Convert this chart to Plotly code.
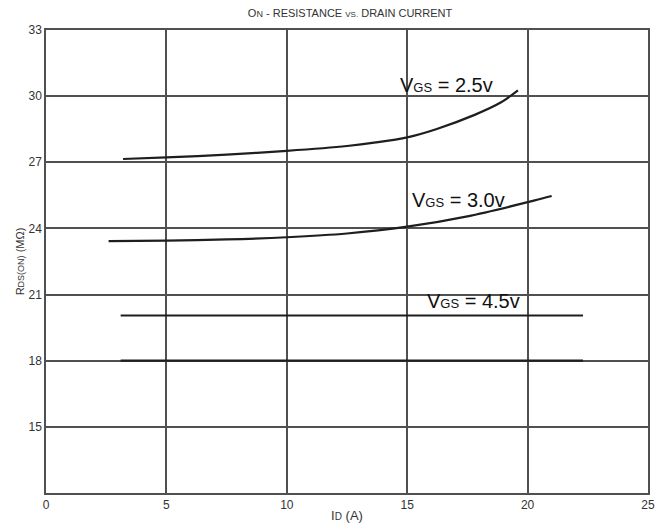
import plotly.graph_objects as go

# Drain current (A) and on-resistance (mOhm) for each gate voltage
id_25 = [3.2, 5, 7.5, 10, 12.5, 13.7, 15, 16.2, 17.8, 18.9, 19.6]
r_25 = [27.15, 27.22, 27.35, 27.52, 27.74, 27.9, 28.13, 28.5, 29.15, 29.72, 30.26]

id_30 = [2.6, 5, 7.5, 10, 12.5, 15, 17.5, 20.3, 21]
r_30 = [23.42, 23.45, 23.5, 23.6, 23.77, 24.08, 24.55, 25.27, 25.47]

id_45 = [3.1, 22.3]
r_45 = [20.05, 20.05]

id_low = [3.1, 22.3]
r_low = [18.0, 18.0]

x_ticks = [0, 5, 10, 15, 20, 25]
y_ticks = [15, 18, 21, 24, 27, 30, 33]

curve_labels = [
    ("V<span style='font-size:13px'>GS</span> = 2.5v", 16.65, 30.5),
    ("V<span style='font-size:13px'>GS</span> = 3.0v", 17.14, 25.3),
    ("V<span style='font-size:13px'>GS</span> = 4.5v", 17.75, 20.72),
]

line_style = dict(color="#1e1e1e", width=2.2, shape="spline", smoothing=0.8)

fig = go.Figure()
for xs, ys in [(id_25, r_25), (id_30, r_30), (id_45, r_45), (id_low, r_low)]:
    fig.add_trace(go.Scatter(x=xs, y=ys, mode="lines", line=line_style,
                             hoverinfo="skip", showlegend=False))

for txt, x, y in curve_labels:
    fig.add_annotation(x=x, y=y, text=txt, showarrow=False,
                       font=dict(family="Liberation Sans, Arial", size=20, color="#111"))

font_small = dict(family="Liberation Sans Narrow, Liberation Sans, Arial", size=12, color="#333")

fig.update_layout(
    width=663, height=529,
    margin=dict(l=46, r=8, t=30, b=32),
    paper_bgcolor="white", plot_bgcolor="white",
    font=font_small,
    title=dict(text="O<span style='font-size:9px'>N</span> - RESISTANCE "
                    "<span style='font-size:8px'>VS.</span> DRAIN CURRENT",
               x=0.528, xanchor="center", y=0.975, yanchor="middle",
               font=dict(family="Liberation Sans Narrow, Liberation Sans, Arial", size=11, color="#333")),
    xaxis=dict(range=[0, 25], tickvals=x_ticks, showgrid=True, gridcolor="#505050",
               gridwidth=1.5, showline=True, linecolor="#505050", linewidth=1.5, mirror=True,
               zeroline=False, ticks="", ticklen=0,
               title=dict(text="I<span style='font-size:10px'>D</span> (A)", standoff=0,
                          font=dict(size=13, color="#333"))),
    yaxis=dict(range=[12, 33], tickvals=y_ticks, showgrid=True, gridcolor="#505050",
               gridwidth=1.5, showline=True, linecolor="#505050", linewidth=1.5, mirror=True,
               zeroline=False, ticks="",
               title=dict(text="R<span style='font-size:9px'>DS(ON)</span> (MΩ)", standoff=2,
                          font=dict(size=11, color="#333"))),
)

fig.write_html("out.html")
